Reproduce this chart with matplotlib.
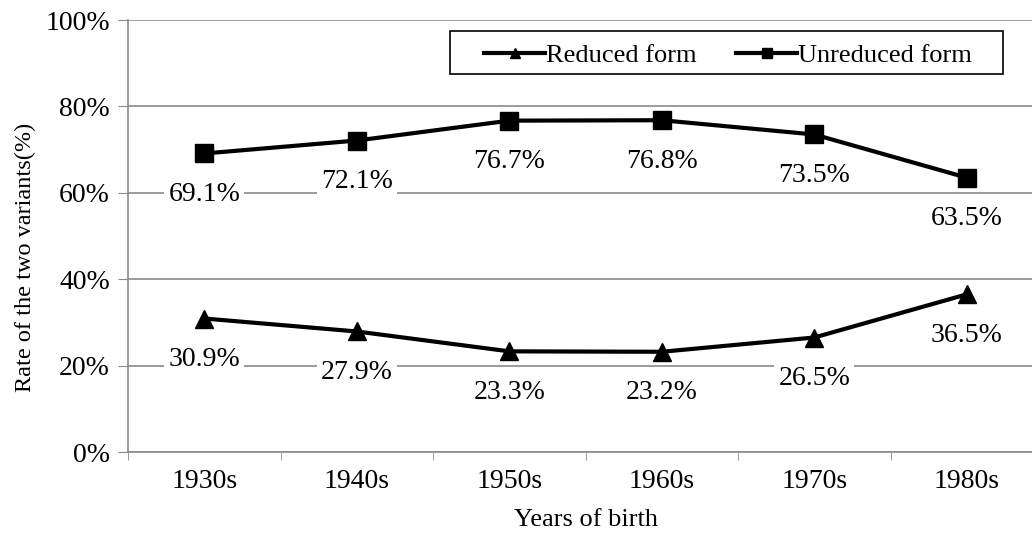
import numpy as np
import matplotlib.pyplot as plt
from matplotlib.patches import Rectangle

# data
decades = ['1930s', '1940s', '1950s', '1960s', '1970s', '1980s']
reduced = [30.9, 27.9, 23.3, 23.2, 26.5, 36.5]
unreduced = [69.1, 72.1, 76.7, 76.8, 73.5, 63.5]
y_ticks = [0, 20, 40, 60, 80, 100]

plt.rcParams['font.family'] = ['Liberation Serif', 'DejaVu Serif']

fig = plt.figure(figsize=(10.32, 5.35), dpi=100)
# axes run slightly past the right edge, as in the reference crop
ax = fig.add_axes([128/1032, 83/535, (1043-128)/1032, 432/535])

x = np.arange(len(decades))
grey = '#8a8a8a'

ax.plot(x, reduced, color='black', lw=3, marker='^', ms=13,
        label='Reduced form', zorder=4, clip_on=False)
ax.plot(x, unreduced, color='black', lw=3, marker='s', ms=13,
        label='Unreduced form', zorder=4, clip_on=False)

# value labels below each point, on a white patch over the gridlines
for series in (reduced, unreduced):
    for xi, v in zip(x, series):
        ax.annotate('{:.1f}%'.format(v), (xi, v), xytext=(0, -29.5),
                    textcoords='offset points', ha='center', va='center',
                    fontsize=20, zorder=3,
                    bbox=dict(boxstyle='square,pad=0.15', fc='white', ec='none'))

ax.set_xlim(-0.5, len(decades) - 0.5)
ax.set_ylim(0, 100)
ax.set_yticks(y_ticks)
ax.set_yticklabels(['{}%'.format(t) for t in y_ticks], fontsize=20)
ax.set_xticks(x)
ax.set_xticklabels(decades, fontsize=20)
ax.set_xticks(np.arange(-0.5, len(decades)), minor=True)
ax.tick_params(axis='x', which='major', length=0, pad=12)
ax.tick_params(axis='x', which='minor', length=6, color=grey, direction='out')
ax.tick_params(axis='y', length=7, color=grey, direction='out', pad=6)

ax.grid(axis='y', color=grey, lw=1.2)
ax.set_axisbelow(True)
for side in ('top', 'right'):
    ax.spines[side].set_visible(False)
for side in ('left', 'bottom'):
    ax.spines[side].set_color(grey)
    ax.spines[side].set_linewidth(1.2)

ax.set_xlabel('Years of birth', fontsize=19, labelpad=11)
ax.set_ylabel('Rate of the two variants(%)', fontsize=17.5)
ax.yaxis.set_label_coords(-0.101, 0.45)

# legend box is wider than its content, so the frame is drawn separately
box = Rectangle((0.352, 0.875), 0.604, 0.1, transform=ax.transAxes,
                facecolor='white', edgecolor='black', lw=1.2, zorder=5)
ax.add_patch(box)
leg = ax.legend(ncol=2, loc='center', bbox_to_anchor=(0.656, 0.918),
                fontsize=19, frameon=False, handlelength=2.3,
                handletextpad=0.05, columnspacing=1.5, borderpad=0,
                markerscale=0.6)
leg.set_zorder(6)

fig.savefig('out.png', dpi=100)
